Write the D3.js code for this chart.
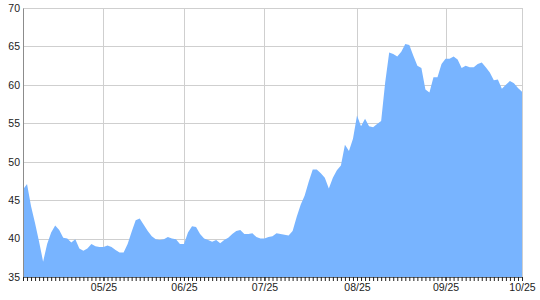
<!DOCTYPE html>
<html>
<head>
<meta charset="utf-8">
<script src="https://cdn.jsdelivr.net/npm/d3@7"></script>
<style>
    body { margin: 0; background: #fff; }
    svg text { font-family: 'Liberation Sans', Arial, sans-serif; font-size: 10.5px; fill: #222; }
</style>
</head>
<body>
<svg width="540" height="300"></svg>
<script>
// daily closing values (one per trading day)
const values = [
    46.4, 47.1, 44.2, 42.0, 39.6, 37.0, 39.3, 40.8, 41.7, 41.1,
    40.1, 40.0, 39.5, 39.9, 38.7, 38.4, 38.7, 39.3, 39.0, 38.9,
    38.9, 39.1, 38.9, 38.5, 38.2, 38.2, 39.3, 40.9, 42.4, 42.6,
    41.8, 41.0, 40.3, 39.9, 39.8, 39.9, 40.2, 40.0, 39.9, 39.3,
    39.3, 40.8, 41.6, 41.5, 40.6, 40.0, 39.8, 39.6, 39.8, 39.4,
    39.8, 40.1, 40.6, 41.0, 41.1, 40.6, 40.6, 40.7, 40.2, 40.0,
    40.0, 40.2, 40.3, 40.7, 40.6, 40.5, 40.4, 41.0, 42.8, 44.4,
    45.6, 47.4, 49.0, 49.0, 48.5, 47.9, 46.5, 47.9, 48.9, 49.5,
    52.2, 51.4, 53.0, 56.0, 54.6, 55.6, 54.6, 54.5, 54.9, 55.3,
    60.3, 64.2, 64.0, 63.7, 64.3, 65.3, 65.2, 63.8, 62.5, 62.2,
    59.4, 59.0, 61.0, 61.0, 62.7, 63.4, 63.4, 63.7, 63.3, 62.2,
    62.5, 62.3, 62.3, 62.7, 62.9, 62.3, 61.6, 60.6, 60.7, 59.5,
    60.0, 60.5, 60.2, 59.6, 59.1
];
// x tick labels and the trading-day index they sit on
const tickLabels = ['05/25', '06/25', '07/25', '08/25', '09/25', '10/25'];
const tickIndex = [20, 40, 60, 83, 105, 124];
const yTicks = [35, 40, 45, 50, 55, 60, 65, 70];

const margin = { top: 8, right: 18, bottom: 23, left: 23 };
const width = 540 - margin.left - margin.right;
const height = 300 - margin.top - margin.bottom;

const svg = d3.select('svg');
const g = svg.append('g').attr('transform', `translate(${margin.left},${margin.top})`);

const xScale = d3.scaleLinear().domain([0, values.length - 1]).range([0, width]);
const yScale = d3.scaleLinear().domain([35, 70]).range([height, 0]);

// grid
g.append('g')
    .selectAll('line.h')
    .data(yTicks)
    .join('line')
    .attr('x1', 0)
    .attr('x2', width)
    .attr('y1', (d) => Math.round(yScale(d)) + 0.5)
    .attr('y2', (d) => Math.round(yScale(d)) + 0.5)
    .attr('stroke', '#cfcfcf');

g.append('g')
    .selectAll('line.v')
    .data(tickIndex)
    .join('line')
    .attr('x1', (d) => Math.round(xScale(d)) + 0.5)
    .attr('x2', (d) => Math.round(xScale(d)) + 0.5)
    .attr('y1', 0)
    .attr('y2', height)
    .attr('stroke', '#cfcfcf');

// area
const area = d3
    .area()
    .x((d, i) => xScale(i))
    .y0(height)
    .y1((d) => yScale(d));

g.append('path').datum(values).attr('d', area).attr('fill', '#78b4ff');

// left axis
const yAxis = g.append('g').call(d3.axisLeft(yScale).tickValues(yTicks).tickSize(0).tickPadding(3));
yAxis.select('.domain').attr('stroke', '#8c8c8c');

// bottom axis: small tick for every day, labels only on the 25th
const xMinor = g
    .append('g')
    .attr('transform', `translate(0,${height})`)
    .call(d3.axisBottom(xScale).tickValues(d3.range(values.length)).tickSize(4).tickFormat(''));
xMinor.select('.domain').attr('stroke', '#666');
xMinor.selectAll('.tick line').attr('stroke', '#222');

const xAxis = g
    .append('g')
    .attr('transform', `translate(0,${height})`)
    .call(
        d3
            .axisBottom(xScale)
            .tickValues(tickIndex)
            .tickSize(4)
            .tickPadding(3)
            .tickFormat((d, i) => tickLabels[i])
    );
xAxis.select('.domain').remove();
xAxis.selectAll('.tick line').attr('stroke', '#222');
xAxis.selectAll('text').attr('fill', '#222');
yAxis.selectAll('text').attr('fill', '#222');
</script>
</body>
</html>
